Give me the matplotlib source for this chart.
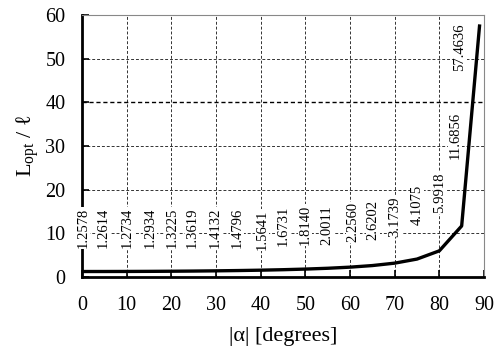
import matplotlib
matplotlib.use("Agg")
import matplotlib.pyplot as plt

# optimal length ratio vs. |alpha|
angles = [0, 5, 10, 15, 20, 25, 30, 35, 40, 45, 50, 55, 60, 65, 70, 75, 80, 85, 89]
ratios = [1.2578, 1.2614, 1.2734, 1.2934, 1.3225, 1.3619, 1.4132, 1.4796, 1.5641,
          1.6731, 1.8140, 2.0011, 2.2560, 2.6202, 3.1739, 4.1075, 5.9918, 11.6856,
          57.4636]

# where each value label sits (data coords)
label_x = [0.2, 4.7, 10.1, 15.2, 20.1, 24.6, 29.8, 34.7, 40.3, 45.0, 49.9, 54.8,
           60.7, 65.2, 70.1, 75.0, 80.1, 83.5, 84.6]
label_y = [11.2, 11.2, 11.2, 11.2, 11.2, 11.2, 11.2, 11.3, 10.8, 11.7, 11.9, 11.9,
           12.5, 13.0, 13.9, 16.5, 19.3, 32.5, 52.6]

plt.rcParams['font.family'] = ['Liberation Serif', 'DejaVu Serif']
plt.rcParams['mathtext.fontset'] = 'custom'
plt.rcParams['mathtext.rm'] = 'Liberation Serif'

fig = plt.figure(figsize=(4.96, 3.48), dpi=100)
ax = fig.add_axes([0.1653, 0.204, 0.8105, 0.753])

ax.set_xlim(0, 90)
ax.set_ylim(0, 60)
ax.set_xticks(range(0, 91, 10))
ax.set_yticks(range(0, 61, 10))
ax.grid(True, color='#333333', linestyle=(0, (3, 2)), linewidth=0.7)
ax.get_ygridlines()[4].set_linewidth(1.0)
ax.get_ygridlines()[4].set_color('black')
ax.set_axisbelow(True)

ax.plot(angles, ratios, color='black', linewidth=2.4, zorder=3)

for v, lx, ly in zip(ratios, label_x, label_y):
    ax.text(lx, ly, f"{v:.4f}", rotation=90, ha='center', va='center',
            fontsize=10.5, zorder=4,
            bbox=dict(facecolor='white', edgecolor='none', pad=0.5))

for side in ['left', 'bottom']:
    ax.spines[side].set_linewidth(2.0)
    ax.spines[side].set_color('black')
for side in ['top', 'right']:
    ax.spines[side].set_linewidth(0.8)
    ax.spines[side].set_color('#888888')

ax.tick_params(direction='in', length=5, width=1.2, labelsize=14.5)
ax.tick_params(axis='x', pad=14)
ax.tick_params(axis='y', pad=12)
ax.set_xlabel('|α| [degrees]', fontsize=16, labelpad=8)
ax.set_ylabel(r'L$_{\rm opt}$ / ℓ', fontsize=16, labelpad=2)

fig.savefig('out.png', dpi=100)
